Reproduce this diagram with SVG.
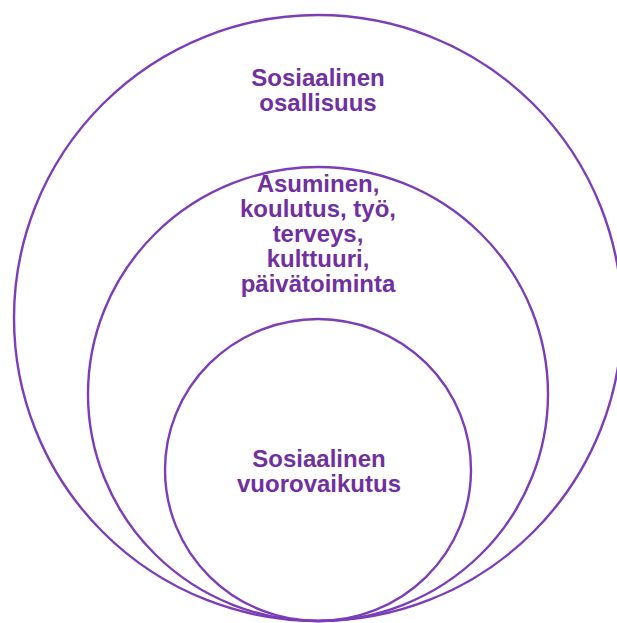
<svg xmlns="http://www.w3.org/2000/svg" width="617" height="623" viewBox="0 0 617 623">
<style>
.ring{fill:none;stroke:#7B3DB8;stroke-width:2.4}
.lbl{font-family:"Liberation Sans",Arial,sans-serif;font-weight:bold;font-size:24px;fill:#7030A0;text-anchor:middle}
</style>
<rect width="617" height="623" fill="#ffffff"/>
<g id="outer">
<ellipse class="ring" cx="318" cy="318" rx="304" ry="303"/>
<text class="lbl" x="318" y="86">Sosiaalinen</text>
<text class="lbl" x="318" y="111">osallisuus</text>
</g>
<g id="middle">
<ellipse class="ring" cx="318" cy="394" rx="230" ry="227"/>
<text class="lbl" x="318" y="192">Asuminen,</text>
<text class="lbl" x="318" y="217">koulutus, työ,</text>
<text class="lbl" x="318" y="242">terveys,</text>
<text class="lbl" x="318" y="267">kulttuuri,</text>
<text class="lbl" x="318" y="292">päivätoiminta</text>
</g>
<g id="inner">
<ellipse class="ring" cx="318" cy="470" rx="153" ry="151"/>
<text class="lbl" x="319" y="467">Sosiaalinen</text>
<text class="lbl" x="319" y="492">vuorovaikutus</text>
</g>
<g id="connectors"/>
</svg>
